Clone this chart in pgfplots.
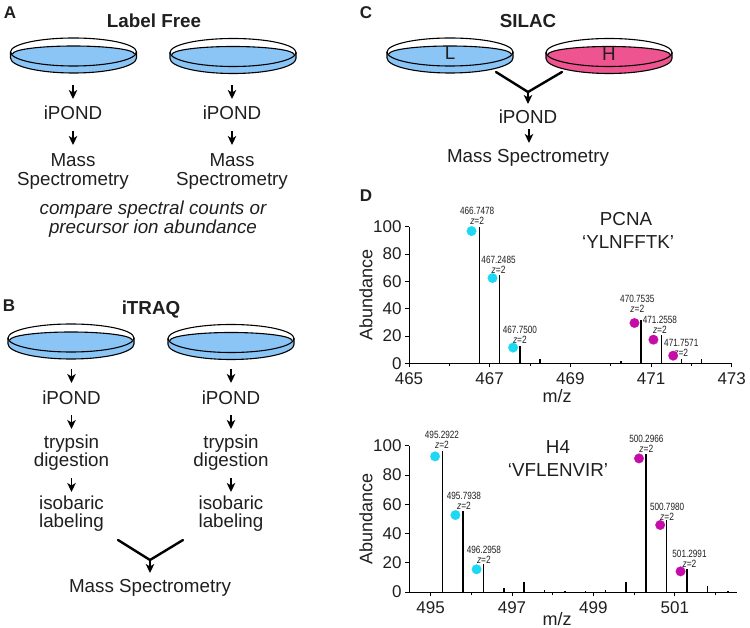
\documentclass[border=0pt]{standalone}
\usepackage{fontspec}
\setmainfont{Liberation Sans}
\usepackage{pgfplots}
\pgfplotsset{compat=1.18}
\usetikzlibrary{arrows.meta}
\definecolor{dishblue}{RGB}{138,197,246}
\definecolor{dishpink}{RGB}{238,84,143}
\definecolor{dotcyan}{RGB}{28,216,243}
\definecolor{dotmag}{RGB}{196,12,168}
\definecolor{ink}{gray}{0.12}
\newcommand\fs[1]{\fontsize{#1}{#1}\selectfont}
\tikzset{
  txt/.style={font=\fs{18.8},text=ink,inner sep=0pt,text height=17pt,text depth=4pt,anchor=center},
  hd/.style={font=\fs{18.8}\bfseries,text=ink,inner sep=0pt,text height=14pt,text depth=0pt,anchor=center},
  let/.style={hd,font=\fs{17}\bfseries},
  arr/.style={line width=1.5pt,-{Stealth[length=9pt,width=8.5pt,inset=2.5pt]},draw=black},
  vee/.style={line width=2.4pt,draw=black,line cap=round},
}
% dish with the rim centred at (cx,cy)
\newcommand\dish[3]{
  \draw[line width=1.1pt,fill=white] (#1,#2) ellipse [x radius=63pt,y radius=14pt];
  \fill[#3] (#1-63,#2) -- (#1-63,#2+6) arc[start angle=180,end angle=360,x radius=63pt,y radius=15pt]
    -- (#1+63,#2) -- (#1+61,#2+2) arc[start angle=0,end angle=180,x radius=61pt,y radius=8pt] -- cycle;
  \draw[line width=1.1pt] (#1-63,#2) -- (#1-63,#2+6) arc[start angle=180,end angle=360,x radius=63pt,y radius=15pt] -- (#1+63,#2);
  \draw[line width=1.1pt] (#1+61,#2+2) arc[start angle=0,end angle=180,x radius=61pt,y radius=8pt];
  \draw[line width=1.1pt] (#1-63,#2) arc[start angle=180,end angle=360,x radius=63pt,y radius=14pt];
}
\newcommand\pk[3]{\node[align=center,inner sep=0pt,text=ink,font=\fs{10.5}] at (axis cs:#1,#2)
  {\scalebox{0.78}[1]{#3}\\[-0.5pt]\scalebox{0.8}[1]{\textit{z}=2}};}
\pgfplotsset{
  spec/.style={
    scale only axis,
    axis lines=left,
    axis line style={-,line width=0.9pt,black},
    tick style={line width=0.8pt,black},
    tick align=outside,
    major tick length=4pt,
    minor tick length=3pt,
    ymin=0,ymax=100,
    ytick={0,20,40,60,80,100},
    clip=false,
    tick label style={font=\fs{17},text=ink},
    x tick label style={yshift=-2pt},
    /pgf/number format/assume math mode=true,
    /pgf/number format/1000 sep={},
    /pgf/number format/fixed,
    label style={font=\fs{18},text=ink,inner sep=0pt},
    xlabel={m/z},
    ylabel={Abundance},
    ylabel style={at={(axis description cs:0,0.5)},anchor=center,yshift=43pt},
  },
  peaks/.style={ycomb,black,line width=1.5pt,mark=none},
  dotc/.style={only marks,color=dotcyan,mark=*,mark size=4.8pt,mark options={fill=dotcyan,draw=dotcyan,line width=0.2pt}},
  dotm/.style={only marks,color=dotmag,mark=*,mark size=4.8pt,mark options={fill=dotmag,draw=dotmag,line width=0.2pt}},
}
\begin{document}
\begin{tikzpicture}[x=1pt,y=-1pt]
\useasboundingbox (0,0) rectangle (750,628);

% panel A
\node[let] at (10,12) {A};
\node[hd] at (154,21) {Label Free};
\dish{73.5}{52}{dishblue}
\dish{233}{52.5}{dishblue}
\foreach \x in {73,232}{
  \draw[arr] (\x,85) -- (\x,99);
  \node[txt] at (\x,113) {iPOND};
  \draw[arr] (\x,131) -- (\x,145);
  \node[txt] at (\x,160) {Mass};
  \node[txt] at (\x,179) {Spectrometry};
}
\node[txt,font=\fs{18.8}\itshape] at (153,208) {compare spectral counts or};
\node[txt,font=\fs{18.8}\itshape] at (153,227) {precursor ion abundance};

% panel B
\node[let] at (9,305) {B};
\node[hd] at (151,308) {iTRAQ};
\dish{71}{338}{dishblue}
\dish{231}{338.5}{dishblue}
\foreach \x in {71.5,231}{
  \draw[arr] (\x,369) -- (\x,383);
  \node[txt] at (\x,398) {iPOND};
  \draw[arr] (\x,415) -- (\x,429);
  \node[txt] at (\x,442) {trypsin};
  \node[txt] at (\x,460) {digestion};
  \draw[arr] (\x,478) -- (\x,492);
  \node[txt] at (\x,503) {isobaric};
  \node[txt] at (\x,521) {labeling};
}
\draw[vee] (118,540) -- (150,560) -- (183,540);
\draw[arr] (150,560) -- (150,573);
\node[txt] at (150,586) {Mass Spectrometry};

% panel C
\node[let] at (366,12) {C};
\node[hd] at (528,21) {SILAC};
\dish{450}{52}{dishblue}
\dish{609}{52.5}{dishpink}
\node[txt] at (450,53) {L};
\node[txt] at (609,54) {H};
\draw[vee] (496,72) -- (528,92) -- (562,72);
\draw[arr] (528,92) -- (528,104);
\node[txt] at (528,117) {iPOND};
\draw[arr] (529,129) -- (529,143);
\node[txt] at (528,156) {Mass Spectrometry};

% panel D
\node[let] at (366,195) {D};

\begin{axis}[spec,at={(409pt,-363.3pt)},anchor=south west,
    width=322.7pt,height=136.6pt,
    xmin=465,xmax=473,
    xtick={465,467,469,471,473},minor xtick={466,468,470,472},
    xlabel style={at={(axis description cs:0.459,0)},anchor=center,yshift=-33pt},
  ]
\addplot[peaks] coordinates {(466.7478,100) (467.2485,65) (467.75,13) (468.25,3.5) (470.25,2) (470.7535,32) (471.2558,21) (471.7571,3.5) (472.25,3)};
\addplot[dotc] coordinates {(466.55,96.8) (467.07,62.4) (467.58,11.5)};
\addplot[dotm] coordinates {(470.59,29.5) (471.06,17.3) (471.55,5.6)};
\pk{466.69}{108}{466.7478}
\pk{467.22}{72.2}{467.2485}
\pk{467.75}{21}{467.7500}
\pk{470.66}{43.2}{470.7535}
\pk{471.22}{28.5}{471.2558}
\pk{471.75}{11.5}{471.7571}
\node[txt] at (axis cs:470.38,106) {PCNA};
\node[txt] at (axis cs:470.43,88.8) {‘YLNFFTK’};
\end{axis}

\begin{axis}[spec,at={(409pt,-592pt)},anchor=south west,
    width=327.7pt,height=146.3pt,
    xmin=494.47,xmax=502.52,
    xtick={495,497,499,501},minor xtick={496,498,500,502},
    xlabel style={at={(axis description cs:0.452,0)},anchor=center,yshift=-27pt},
  ]
\addplot[peaks] coordinates {(495.2922,96.6) (495.7938,55.5) (496.2958,19) (496.8,3) (497.3,6.5) (497.8,1.5) (498.3,1) (498.8,0.5) (499.3,1.5) (499.8,7) (500.2966,94.5) (500.798,49) (501.2991,16) (501.8,4) (502.3,0.7)};
\addplot[dotc] coordinates {(495.11,92.7) (495.61,52.6) (496.13,15.5)};
\addplot[dotm] coordinates {(500.12,91.3) (500.64,45.8) (501.14,14.1)};
\pk{495.28}{104.3}{495.2922}
\pk{495.82}{62.6}{495.7938}
\pk{496.31}{25.3}{496.2958}
\pk{500.30}{101.4}{500.2966}
\pk{500.81}{54.9}{500.7980}
\pk{501.36}{22.5}{501.2991}
\node[txt] at (axis cs:498.13,99) {H4};
\node[txt] at (axis cs:498.13,83.4) {‘VFLENVIR’};
\end{axis}
\end{tikzpicture}
\end{document}
